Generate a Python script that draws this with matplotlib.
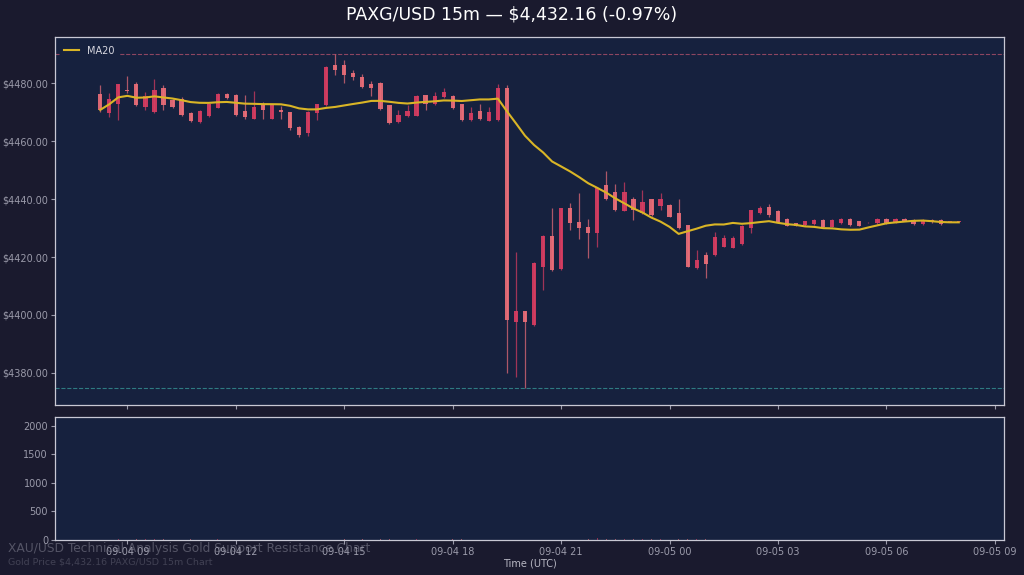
import matplotlib
matplotlib.use('Agg')
import matplotlib.dates as mdates
import matplotlib.pyplot as plt
import numpy as np
import pandas as pd

FIG_BG = '#1a1a2e'
AX_BG = '#16213e'
SPINE = '#c8c8d4'
TICK = '#9a9aaa'
UP = '#dc3d62'
DOWN = '#ef6f7a'
GOLD = '#d9b526'

# 15m candles, 09-04 08:15 -> 09-05 08:00 (UTC)
start = '2025-09-04 08:15'
opens = [
    4476.4, 4469.6, 4473.0, 4477.8, 4479.9, 4471.8, 4470.1, 4478.5, 4474.1, 4474.7,
    4469.8, 4466.7, 4468.6, 4471.6, 4476.4, 4476.1, 4470.5, 4467.8, 4472.8, 4467.8,
    4470.7, 4470.1, 4464.9, 4462.7, 4469.6, 4472.4, 4486.2, 4486.2, 4483.6, 4482.2,
    4479.9, 4480.2, 4472.4, 4466.7, 4468.6, 4468.8, 4475.9, 4472.8, 4475.1, 4475.5,
    4472.8, 4467.2, 4470.5, 4467.0, 4467.2, 4478.5, 4397.4, 4401.2, 4396.6, 4416.4,
    4427.2, 4415.8, 4436.8, 4432.2, 4430.4, 4428.2, 4444.8, 4442.5, 4436.0, 4439.9,
    4435.1, 4439.9, 4437.6, 4437.9, 4435.3, 4431.0, 4416.1, 4420.7, 4420.7, 4423.6,
    4423.2, 4424.4, 4429.9, 4435.1, 4437.4, 4435.9, 4433.1, 4431.6, 4431.0, 4431.3,
    4432.8, 4430.5, 4431.6, 4433.3, 4432.4, 4432.0, 4431.6, 4433.3, 4432.0, 4433.3,
    4432.8, 4431.3, 4432.8, 4432.8, 4432.2, 4432.16,
]
highs = [
    4479.3, 4476.8, 4479.9, 4482.4, 4480.5, 4477.0, 4481.3, 4479.3, 4474.5, 4475.3,
    4470.1, 4470.7, 4473.0, 4476.6, 4476.8, 4476.4, 4475.9, 4477.3, 4473.6, 4472.6,
    4472.1, 4470.1, 4465.2, 4470.3, 4473.0, 4485.8, 4490.2, 4487.9, 4484.5, 4483.1,
    4480.8, 4480.5, 4472.6, 4470.9, 4472.4, 4475.8, 4476.1, 4477.0, 4478.2, 4475.8,
    4473.0, 4471.8, 4473.0, 4471.8, 4479.9, 4479.3, 4421.8, 4401.5, 4418.3, 4427.5,
    4436.8, 4437.0, 4438.7, 4442.2, 4433.3, 4444.3, 4449.8, 4445.2, 4446.0, 4440.8,
    4443.3, 4440.2, 4442.0, 4438.2, 4440.2, 4431.2, 4422.4, 4421.8, 4428.5, 4427.6,
    4427.4, 4431.0, 4436.4, 4437.7, 4438.3, 4436.2, 4433.4, 4431.8, 4432.6, 4433.0,
    4433.0, 4433.0, 4433.5, 4433.5, 4432.6, 4432.2, 4433.5, 4433.5, 4433.5, 4433.5,
    4433.0, 4433.0, 4433.0, 4433.0, 4432.3, 4432.2,
]
lows = [
    4470.0, 4468.4, 4467.2, 4476.8, 4472.0, 4470.9, 4469.8, 4470.9, 4471.5, 4468.6,
    4466.6, 4466.2, 4468.3, 4471.3, 4474.5, 4468.7, 4467.8, 4467.5, 4467.8, 4467.5,
    4467.8, 4463.8, 4461.3, 4461.7, 4467.2, 4472.0, 4482.8, 4480.1, 4481.0, 4478.5,
    4475.5, 4470.8, 4466.0, 4466.3, 4468.4, 4468.6, 4470.7, 4472.6, 4474.9, 4471.1,
    4467.0, 4467.0, 4467.3, 4466.8, 4467.0, 4379.9, 4378.7, 4374.7, 4396.3, 4408.6,
    4415.2, 4415.6, 4429.3, 4426.1, 4419.5, 4423.6, 4439.7, 4436.0, 4435.8, 4432.8,
    4434.9, 4434.3, 4436.4, 4433.7, 4429.7, 4416.5, 4415.9, 4412.9, 4420.5, 4423.4,
    4423.0, 4424.2, 4428.4, 4434.9, 4433.7, 4432.0, 4430.6, 4430.6, 4430.8, 4431.1,
    4430.3, 4430.3, 4431.4, 4430.8, 4430.6, 4431.8, 4431.4, 4431.4, 4431.8, 4432.3,
    4431.1, 4431.1, 4431.8, 4431.1, 4432.1, 4432.1,
]
closes = [
    4470.8, 4474.7, 4479.9, 4477.2, 4472.4, 4475.5, 4477.8, 4472.4, 4471.8, 4469.0,
    4467.0, 4470.5, 4472.8, 4476.4, 4474.9, 4469.0, 4468.2, 4471.8, 4470.9, 4472.4,
    4470.0, 4464.4, 4462.1, 4470.1, 4472.7, 4485.6, 4484.4, 4482.8, 4482.0, 4478.7,
    4478.2, 4471.0, 4466.3, 4469.0, 4470.4, 4475.6, 4473.0, 4475.6, 4477.0, 4471.3,
    4467.2, 4469.8, 4467.5, 4470.1, 4478.2, 4398.3, 4401.2, 4397.4, 4418.0, 4427.2,
    4415.5, 4436.8, 4431.6, 4429.9, 4428.2, 4443.7, 4439.9, 4436.2, 4442.5, 4436.2,
    4439.1, 4434.5, 4439.9, 4433.9, 4429.9, 4416.7, 4419.0, 4417.5, 4427.0, 4426.7,
    4426.4, 4430.8, 4436.2, 4437.0, 4434.5, 4432.2, 4430.8, 4430.8, 4432.4, 4432.8,
    4430.5, 4432.8, 4433.3, 4431.0, 4430.8, 4432.0, 4433.3, 4431.6, 4433.3, 4432.5,
    4431.3, 4432.8, 4432.0, 4431.3, 4432.2, 4432.16,
]
volumes = [
    12, 8, 15, 6, 10, 9, 14, 11, 5, 7,
    9, 6, 8, 10, 4, 12, 9, 11, 6, 8,
    5, 13, 10, 14, 9, 22, 18, 12, 7, 9,
    8, 16, 11, 6, 7, 12, 8, 7, 6, 10,
    9, 5, 7, 6, 14, 95, 120, 110, 80, 60,
    45, 38, 22, 18, 20, 26, 24, 15, 14, 12,
    10, 11, 9, 8, 12, 20, 14, 12, 10, 8,
    7, 9, 11, 6, 7, 8, 5, 4, 4, 5,
    4, 4, 5, 4, 3, 2, 3, 3, 2, 3,
    3, 2, 2, 2, 1, 1,
]

times = pd.date_range(start, periods=len(closes), freq='15min')
df = pd.DataFrame({'open': opens, 'high': highs, 'low': lows,
                   'close': closes, 'volume': volumes}, index=times)
df['ma20'] = df['close'].rolling(20, min_periods=1).mean()

last = df['close'].iloc[-1]
change = -0.97
resistance = df['high'].max()
support = df['low'].min()

x = mdates.date2num(df.index.to_pydatetime())
bar_w = 7.0 / (24 * 60)
up = df['close'] >= df['open']
colors = np.where(up, UP, DOWN)

fig = plt.figure(figsize=(10.24, 5.75), dpi=100, facecolor=FIG_BG)
ax = fig.add_axes([0.0537, 0.2957, 0.9268, 0.64])
axv = fig.add_axes([0.0537, 0.0609, 0.9268, 0.2139], sharex=ax)

for a in (ax, axv):
    a.set_facecolor(AX_BG)
    for s in a.spines.values():
        s.set_color(SPINE)
        s.set_linewidth(0.9)
    a.tick_params(colors=TICK, labelsize=7, length=3, pad=2)

# candles
ax.vlines(x, df['low'], df['high'], colors=colors, linewidth=0.9, alpha=0.7)
body_lo = np.minimum(df['open'], df['close'])
body_h = np.maximum((df['close'] - df['open']).abs(), 0.25)
ax.bar(x, body_h, bottom=body_lo, width=bar_w, color=colors, alpha=0.9,
       linewidth=0)

ax.plot(x, df['ma20'], color=GOLD, linewidth=1.5, label='MA20')
ax.axhline(resistance, color='#e0607a', linestyle='--', linewidth=0.8, alpha=0.6)
ax.axhline(support, color='#3fb8b0', linestyle='--', linewidth=0.8, alpha=0.6)

ax.yaxis.set_major_formatter(plt.FuncFormatter(lambda v, _: f'${v:.2f}'))
ax.yaxis.set_major_locator(plt.MultipleLocator(20))
ax.tick_params(axis='x', labelbottom=False)
ax.legend(loc='upper left', fontsize=7, facecolor=AX_BG, handlelength=1.6,
          edgecolor=AX_BG, framealpha=1.0, labelcolor='#d8d8e0')

# volume
axv.bar(x, df['volume'], width=0.0006, color=colors, alpha=0.6)
axv.set_ylim(0, 2150)
axv.yaxis.set_major_locator(plt.MultipleLocator(500))
axv.xaxis.set_major_locator(mdates.HourLocator(byhour=range(0, 24, 3)))
axv.xaxis.set_major_formatter(mdates.DateFormatter('%m-%d %H'))
axv.set_xlabel('Time (UTC)', color='#b8b8c4', fontsize=7, labelpad=1)

fig.text(0.5, 0.975, f'PAXG/USD 15m \u2014 ${last:,.2f} ({change:.2f}%)',
         ha='center', va='center', color='white', fontsize=12.5)
fig.text(0.008, 0.046, 'XAU/USD Technical Analysis Gold Support Resistance Chart',
         ha='left', va='center', color='#9a9aaa', alpha=0.45, fontsize=8.8)
fig.text(0.008, 0.022, f'Gold Price ${last:,.2f} PAXG/USD 15m Chart',
         ha='left', va='center', color='#9a9aaa', alpha=0.3, fontsize=6.8)

fig.savefig('out.png', dpi=100, facecolor=FIG_BG)
